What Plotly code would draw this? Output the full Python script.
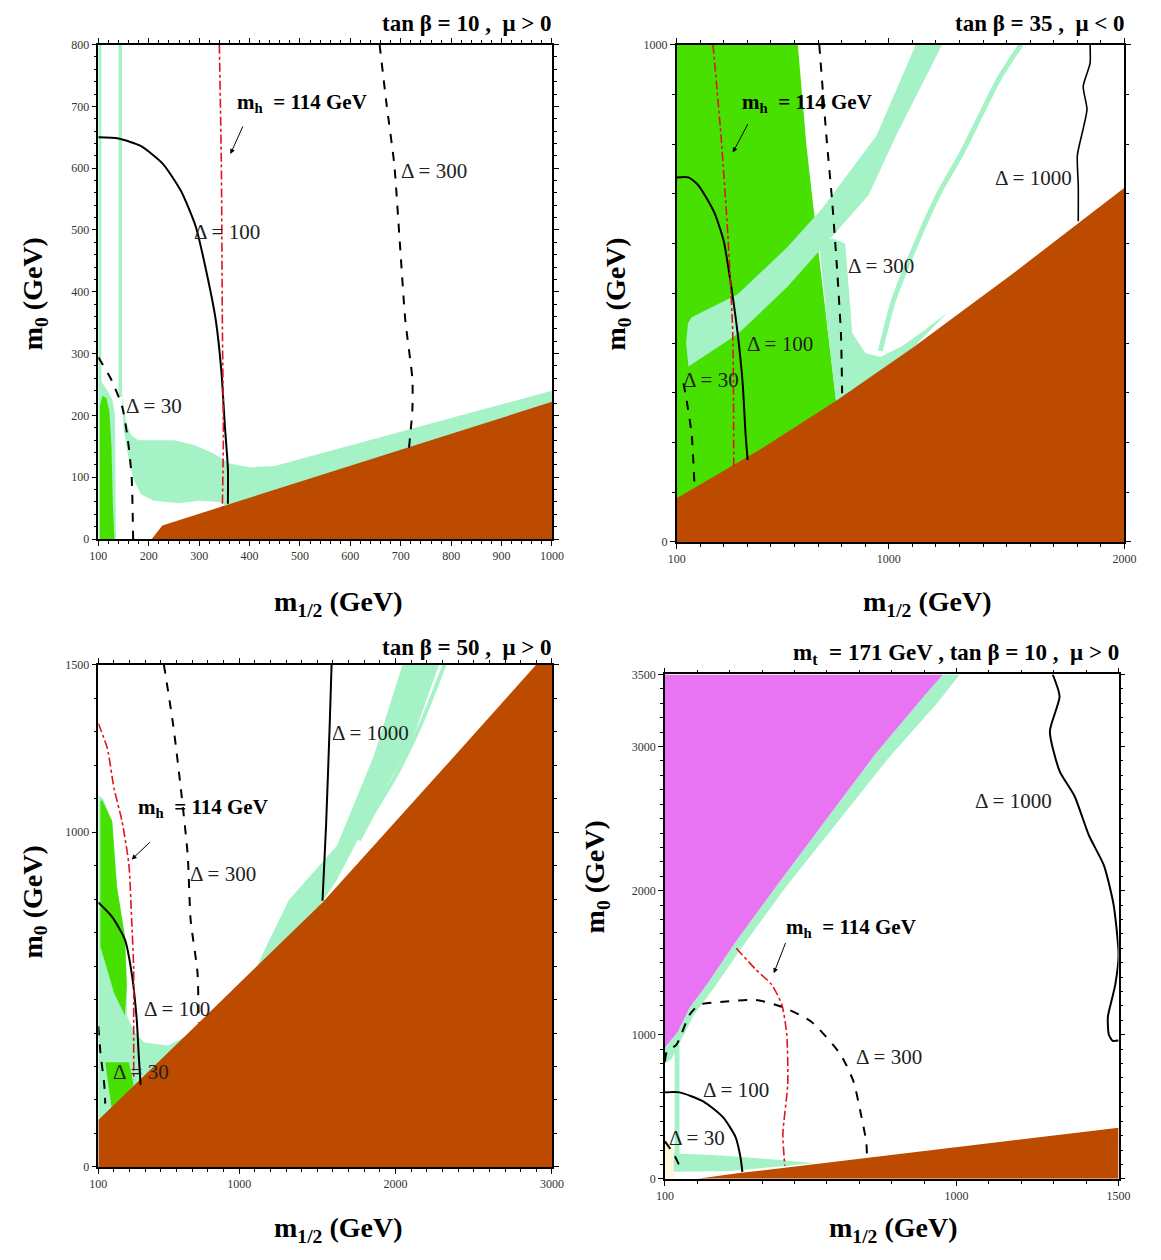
import plotly.graph_objects as go

# ---------------------------------------------------------------- colours
BROWN = "#BC4B00"
LIGHT = "#A4F2C6"
GREEN = "#48E000"
MAGENTA = "#E874F4"
PALE = "#FFF9DC"
RED = "#E0141E"
SERIF = "Liberation Serif"

# ---------------------------------------------------------------- panel 1 : tan b = 10, mu > 0
p1_brown = [(206, 0), (215, 10), (227, 22), (1000, 222), (1000, 0)]
p1_light_left = [(100, 0), (100, 800), (106, 800), (106, 255), (118, 240), (128, 225), (133, 200), (135, 0)]
p1_light_strip = [(140, 800), (147, 800), (147, 230), (140, 230)]
p1_light_band = [(147, 235), (155, 190), (165, 168), (180, 160), (250, 160), (290, 152), (330, 138),
                 (360, 122), (400, 116), (450, 118), (1000, 240), (1000, 200), (360, 50), (340, 60),
                 (300, 62), (260, 58), (210, 62), (185, 72), (170, 95), (160, 130), (150, 180)]
p1_green = [(103, 0), (103, 215), (108, 232), (116, 228), (122, 205), (126, 150), (129, 50), (132, 0)]
p1_d30 = [(100, 294), (125, 259), (147, 215), (158, 164), (166, 101), (169, 0)]
p1_d100 = [(100, 650), (140, 648), (184, 636), (228, 607), (264, 563), (293, 506), (315, 430),
           (333, 354), (344, 272), (351, 183), (357, 114), (357, 57)]
p1_d300 = [(658, 800), (672, 702), (687, 607), (698, 481), (709, 354), (723, 259), (723, 209), (716, 145)]
p1_mh = [(340, 800), (344, 607), (346, 354), (348, 164), (346, 50)]

# ---------------------------------------------------------------- panel 2 : tan b = 35, mu < 0
p2_brown = [(100, 0), (100, 88), (450, 185), (780, 285), (1100, 390), (1500, 530), (2000, 712), (2000, 0)]
p2_green = [(100, 0), (100, 1000), (614, 1000), (650, 800), (693, 618), (740, 430), (776, 285), (776, 0)]
p2_light_band = [(150, 353), (140, 400), (148, 440), (163, 452), (359, 498), (568, 592), (718, 671),
                 (948, 817), (1115, 1000), (1227, 1000), (1031, 817), (914, 697), (718, 592),
                 (568, 512), (359, 418)]
p2_light_wedge = [(776, 283), (740, 430), (705, 600), (760, 610), (815, 600), (830, 500), (845, 420),
                  (900, 380), (964, 372), (1050, 392), (1150, 425), (1250, 462), (1000, 340), (800, 280)]
p2_light_stripe = [(1561, 1000), (1466, 930), (1311, 783), (1215, 703), (1102, 584), (1019, 484), (964, 384)]
p2_d30 = [(129, 319), (142, 285), (163, 219), (175, 120)]
p2_d100 = [(100, 733), (150, 733), (192, 717), (259, 663), (300, 604), (330, 518), (359, 418),
           (380, 319), (392, 219), (401, 165)]
p2_d300 = [(705, 1000), (735, 817), (760, 683), (780, 552), (797, 418), (802, 299)]
p2_d1000 = [(1854, 1000), (1854, 962), (1825, 916), (1841, 870), (1825, 831), (1800, 777), (1804, 717), (1804, 645)]
p2_mh = [(254, 1000), (288, 817), (317, 618), (338, 418), (342, 153)]

# ---------------------------------------------------------------- panel 3 : tan b = 50, mu > 0
p3_brown = [(100, 0), (100, 140), (741, 430), (1533, 790), (2325, 1200), (2900, 1500),
            (3000, 1500), (3000, 0)]
p3_light_u = [(100, 1110), (130, 1100), (190, 1030), (220, 836), (270, 688), (282, 540), (282, 452),
              (332, 402), (395, 372), (546, 363), (753, 413), (1004, 490), (1173, 658), (1318, 797),
              (1626, 960), (1859, 1225), (2045, 1500), (2278, 1500), (2098, 1264), (1810, 1023),
              (1624, 856), (1486, 760), (1486, 0), (100, 0)]
p3_light_stripe = [(2313, 1500), (2161, 1321), (1998, 1166), (1859, 1058), (1765, 975)]
p3_green_top = [(113, 1092), (125, 1095), (160, 1060), (188, 1033), (219, 836), (270, 688), (282, 540),
                (270, 452), (200, 520), (150, 600), (113, 658)]
p3_green_low = [(144, 313), (295, 313), (326, 245), (188, 165)]
p3_d30 = [(100, 420), (113, 343), (138, 245), (144, 189)]
p3_d100 = [(100, 790), (188, 747), (270, 679), (313, 579), (345, 443), (357, 343), (370, 245)]
p3_d300 = [(519, 1500), (578, 1321), (627, 1131), (671, 933), (690, 738), (734, 579), (741, 430)]
p3_d1000 = [(1591, 1500), (1579, 1321), (1556, 1023), (1533, 795)]
p3_mh = [(100, 1324), (158, 1249), (200, 1131), (251, 1033), (295, 904), (313, 738), (326, 590),
         (326, 443), (326, 260)]

# ---------------------------------------------------------------- panel 4 : m_t = 171 GeV, tan b = 10, mu > 0
p4_magenta = [(100, 3500), (958, 3500), (900, 3350), (750, 2950), (600, 2500), (450, 2050),
              (320, 1650), (230, 1350), (176, 1187), (140, 1020), (100, 911)]
p4_light_edge = [(100, 911), (140, 1020), (176, 1187), (230, 1350), (320, 1650), (450, 2050),
                 (600, 2500), (750, 2950), (900, 3350), (958, 3500), (1010, 3500), (940, 3300),
                 (790, 2920), (630, 2470), (475, 2030), (345, 1630), (250, 1320), (190, 1140),
                 (150, 960), (120, 830), (100, 800)]
p4_light_strip = [(130, 932), (145, 932), (145, 150), (130, 150)]
p4_light_band = [(127, 175), (250, 165), (350, 150), (480, 122), (560, 110), (480, 90), (300, 55), (127, 50)]
p4_pale = [(100, 0), (100, 260), (127, 235), (127, 0)]
p4_brown = [(200, 0), (330, 40), (1500, 355), (1500, 0)]
p4_d30 = [(100, 260), (127, 173), (152, 55)]
p4_d100 = [(100, 600), (145, 600), (218, 538), (279, 428), (318, 290), (333, 152), (339, 48)]
p4_d300 = [(100, 814), (106, 883), (136, 932), (176, 1139), (206, 1208), (279, 1229), (379, 1242),
           (461, 1194), (552, 1090), (642, 863), (682, 676), (703, 469), (721, 262), (724, 152)]
p4_d1000 = [(1297, 3500), (1318, 3347), (1288, 3105), (1318, 2830), (1364, 2657), (1409, 2381),
            (1455, 2174), (1485, 1898), (1500, 1553), (1490, 1350), (1478, 1234), (1467, 1124),
            (1470, 1000), (1482, 958), (1500, 960)]
p4_mh = [(320, 1600), (380, 1454), (430, 1346), (461, 1208), (476, 1001), (479, 656), (464, 311), (470, 90)]

# ---------------------------------------------------------------- axis set-up per panel
panels = {
    1: dict(xr=[100, 1000], yr=[0, 800],
            xt=list(range(100, 1001, 100)), yt=list(range(0, 801, 100)), xm=20, ym=20,
            xd=[0.07838, 0.47631], yd=[0.57302, 0.96984], ts=7),
    2: dict(xr=[100, 2000], yr=[0, 1000],
            xt=[100, 1000, 2000], yt=[0, 1000], xm=100, ym=100,
            xd=[0.58570, 0.97847], yd=[0.57063, 0.96984], ts=7),
    3: dict(xr=[100, 3000], yr=[0, 1500],
            xt=[100, 1000, 2000, 3000], yt=[0, 1000, 1500], xm=100, ym=100,
            xd=[0.07838, 0.47631], yd=[0.06905, 0.47222], ts=3),
    4: dict(xr=[100, 1500], yr=[0, 3500],
            xt=[100, 1000, 1500], yt=[0, 1000, 2000, 3000, 3500], xm=100, ym=100,
            xd=[0.57537, 0.97330], yd=[0.05952, 0.46429], ts=4),
}

titles = {
    1: "<b>tan β = 10 ,  μ > 0</b>",
    2: "<b>tan β = 35 ,  μ < 0</b>",
    3: "<b>tan β = 50 ,  μ > 0</b>",
    4: "<b>m<sub>t</sub>  = 171 GeV , tan β = 10 ,  μ > 0</b>",
}

fig = go.Figure()


def refs(p):
    return ("x" if p == 1 else f"x{p}"), ("y" if p == 1 else f"y{p}")


def area(p, pts, color):
    xa, ya = refs(p)
    fig.add_trace(go.Scatter(x=[q[0] for q in pts], y=[q[1] for q in pts], fill="toself",
                             fillcolor=color, mode="lines", line=dict(width=0, color=color),
                             hoverinfo="skip", showlegend=False, xaxis=xa, yaxis=ya))


def curve(p, pts, color="black", dash="solid", width=2.0):
    xa, ya = refs(p)
    fig.add_trace(go.Scatter(x=[q[0] for q in pts], y=[q[1] for q in pts], mode="lines",
                             line=dict(color=color, dash=dash, width=width, shape="spline", smoothing=0.6),
                             hoverinfo="skip", showlegend=False, xaxis=xa, yaxis=ya))


# filled regions
area(1, p1_light_left, LIGHT)
area(1, p1_light_strip, LIGHT)
area(1, p1_light_band, LIGHT)
area(1, p1_green, GREEN)
area(1, p1_brown, BROWN)

area(2, p2_green, GREEN)
area(2, p2_light_band, LIGHT)
area(2, p2_light_wedge, LIGHT)
area(2, p2_brown, BROWN)

area(3, p3_light_u, LIGHT)
area(3, p3_green_top, GREEN)
area(3, p3_green_low, GREEN)
area(3, p3_brown, BROWN)

area(4, p4_pale, PALE)
area(4, p4_light_edge, LIGHT)
area(4, p4_light_strip, LIGHT)
area(4, p4_light_band, LIGHT)
area(4, p4_magenta, MAGENTA)
area(4, p4_brown, BROWN)

# thin co-annihilation strips
curve(2, p2_light_stripe, LIGHT, "solid", 5)
curve(3, p3_light_stripe, LIGHT, "solid", 4)

# contours of fine tuning and the Higgs mass bound
curve(1, p1_d30, dash="dash")
curve(1, p1_d100)
curve(1, p1_d300, dash="dash")
curve(1, p1_mh, RED, "dashdot", 1.6)

curve(2, p2_d30, dash="dash")
curve(2, p2_d100)
curve(2, p2_d300, dash="dash")
curve(2, p2_d1000, width=1.6)
curve(2, p2_mh, RED, "dashdot", 1.6)

curve(3, p3_d30, dash="dash")
curve(3, p3_d100)
curve(3, p3_d300, dash="dash")
curve(3, p3_d1000)
curve(3, p3_mh, RED, "dashdot", 1.6)

curve(4, p4_d30, dash="dash")
curve(4, p4_d100)
curve(4, p4_d300, dash="dash")
curve(4, p4_d1000)
curve(4, p4_mh, RED, "dashdot", 1.6)

# axes
layout = {}
for p, c in panels.items():
    xk = "xaxis" if p == 1 else f"xaxis{p}"
    yk = "yaxis" if p == 1 else f"yaxis{p}"
    xa, ya = refs(p)
    common = dict(showgrid=False, zeroline=False, showline=True, linecolor="black", linewidth=1.5,
                  mirror="ticks", ticks="outside", ticklen=5, tickwidth=1, tickcolor="black",
                  tickfont=dict(family=SERIF, size=12, color="#333"), fixedrange=True)
    layout[xk] = dict(common, range=c["xr"], domain=c["xd"], anchor=ya, tickmode="array",
                      tickvals=c["xt"], minor=dict(ticks="outside", ticklen=3, dtick=c["xm"],
                                                    tick0=100, tickcolor="black"))
    layout[yk] = dict(common, range=c["yr"], domain=c["yd"], anchor=xa, tickmode="array",
                      tickvals=c["yt"], minor=dict(ticks="outside", ticklen=3, dtick=c["ym"],
                                                    tick0=0, tickcolor="black"))

annotations = []
for p, t in titles.items():
    xa, ya = refs(p)
    annotations.append(dict(text=t, xref=f"{xa} domain", yref=f"{ya} domain", x=1.005, y=1.0,
                            xanchor="right", yanchor="bottom", yshift=panels[p]["ts"], showarrow=False,
                            font=dict(family=SERIF, size=23, color="black")))

# axis titles
xt_pos = {1: (335, 603), 2: (935, 603), 3: (335, 1236), 4: (900, 1236)}
yt_pos = {1: (26, 290), 2: (620, 290), 3: (26, 905), 4: (598, 880)}
for p in panels:
    x0, y0 = xt_pos[p]
    annotations.append(dict(text="<b>m<sub>1/2</sub> (GeV)</b>", xref="paper", yref="paper",
                            x=x0 / 1161, y=1 - y0 / 1260, xanchor="center", yanchor="middle",
                            showarrow=False, font=dict(family=SERIF, size=28, color="black")))
    x0, y0 = yt_pos[p]
    annotations.append(dict(text="<b>m<sub>0</sub> (GeV)</b>", xref="paper", yref="paper",
                            x=x0 / 1161, y=1 - y0 / 1260, xanchor="center", yanchor="middle",
                            showarrow=False, textangle=-90,
                            font=dict(family=SERIF, size=28, color="black")))

# contour labels
labels = [
    (1, "Δ = 30", 210, 215), (1, "Δ = 100", 355, 497), (1, "Δ = 300", 765, 595),
    (2, "Δ = 30", 245, 325), (2, "Δ = 100", 540, 398), (2, "Δ = 300", 965, 554), (2, "Δ = 1000", 1615, 731),
    (3, "Δ = 30", 373, 283), (3, "Δ = 100", 605, 472), (3, "Δ = 300", 900, 874), (3, "Δ = 1000", 1840, 1297),
    (4, "Δ = 30", 200, 284), (4, "Δ = 100", 320, 614), (4, "Δ = 300", 790, 848), (4, "Δ = 1000", 1175, 2625),
]
for p, t, x, y in labels:
    xa, ya = refs(p)
    annotations.append(dict(text=t, xref=xa, yref=ya, x=x, y=y, showarrow=False,
                            font=dict(family=SERIF, size=21, color="#222")))

# Higgs-mass labels with arrows
mh_text = "<b>m<sub>h</sub>  = 114 GeV</b>"
mh_labels = [
    (1, 505, 705, (388, 670), (362, 623)),
    (2, 651, 882, (405, 843), (338, 783)),
    (3, 770, 1072, (439, 974), (313, 918)),
    (4, 675, 1743, (474, 1647), (436, 1427)),
]
for p, x, y, tail, head in mh_labels:
    xa, ya = refs(p)
    annotations.append(dict(text=mh_text, xref=xa, yref=ya, x=x, y=y, showarrow=False,
                            font=dict(family=SERIF, size=21, color="black")))
    annotations.append(dict(text="", xref=xa, yref=ya, x=head[0], y=head[1], axref=xa, ayref=ya,
                            ax=tail[0], ay=tail[1], showarrow=True, arrowhead=2, arrowsize=1,
                            arrowwidth=1, arrowcolor="black"))

fig.update_layout(**layout)
fig.update_layout(width=1161, height=1260, margin=dict(l=0, r=0, t=0, b=0),
                  paper_bgcolor="white", plot_bgcolor="white", annotations=annotations,
                  showlegend=False)

fig.write_html("out.html")
